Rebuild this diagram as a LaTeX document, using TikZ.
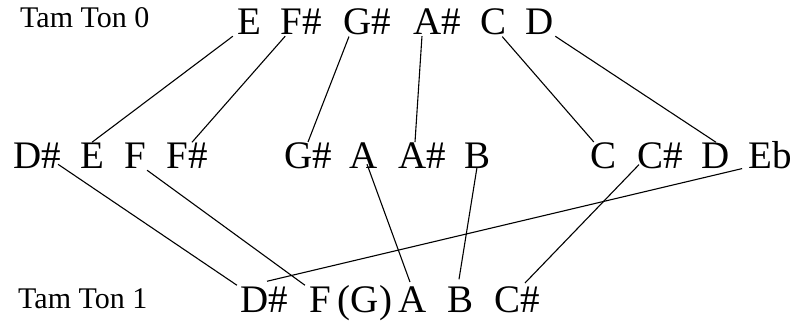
\documentclass[tikz,border=0pt]{standalone}
\usepackage{fontspec}
\setmainfont{Liberation Serif}
\begin{document}
\begin{tikzpicture}[x=1pt,y=-1pt,
  note/.style={font=\fontsize{39}{41}\selectfont, anchor=base, inner sep=1pt},
  lbl/.style={font=\fontsize{30}{32}\selectfont, anchor=base west, inner sep=0pt},
  link/.style={draw=black, line width=1.1pt}]
\useasboundingbox (0,0) rectangle (797,323);
% labels
\node[lbl] (l0) at (20,28) {Tam Ton 0};
\node[lbl] (l1) at (18,308) {Tam Ton 1};
% top row
\node[note] (tE)  at (249,35) {E};
\node[note] (tFs) at (301,35) {F\#};
\node[note] (tGs) at (367,35) {G\#};
\node[note] (tAs) at (437,35) {A\#};
\node[note] (tC)  at (493,35) {C};
\node[note] (tD)  at (540,35) {D};
% middle row
\node[note] (mDs) at (37,169) {D\#};
\node[note] (mE)  at (92,169) {E};
\node[note] (mF)  at (135,169) {F};
\node[note] (mFs) at (187,169) {F\#};
\node[note] (mGs) at (308,169) {G\#};
\node[note] (mA)  at (364,169) {A};
\node[note] (mAs) at (422,169) {A\#};
\node[note] (mB)  at (477,169) {B};
\node[note] (mC)  at (603,169) {C};
\node[note] (mCs) at (660,169) {C\#};
\node[note] (mD)  at (716,169) {D};
\node[note] (mEb) at (770,169) {Eb};
% bottom row
\node[note] (bDs) at (264,312) {D\#};
\node[note] (bF)  at (320,312) {F};
\node[note] (bG)  at (365,312) {(G)};
\node[note] (bA)  at (413,312) {A};
\node[note] (bB)  at (460,312) {B};
\node[note] (bCs) at (517,312) {C\#};
% top to middle
\draw[link] ([xshift=-3]tE.south west) -- (mE.north);
\draw[link] ([xshift=6]tFs.south west) -- ([xshift=5]mFs.north);
\draw[link] ([xshift=7]tGs.south west) -- (mGs.north);
\draw[link] ([xshift=10]tAs.south west) -- ([xshift=-7]mAs.north);
\draw[link] ([xshift=-5]tC.south east) -- ([xshift=5]mC.north west);
\draw[link] (tD.south east) -- (mD.north);
% middle to bottom
\draw[link] ([xshift=-4,yshift=6]mDs.south east) -- ([xshift=-2]bDs.north west);
\draw[link] (mF.south east) -- ([xshift=-3]bF.north west);
\draw[link] ([xshift=3,yshift=6]mA.south) -- ([xshift=-3,yshift=3]bA.north);
\draw[link] ([yshift=3]mB.south) -- ([xshift=-1,yshift=6]bB.north);
\draw[link] ([xshift=3,yshift=6]mCs.south west) -- ([xshift=8,yshift=2]bCs.north);
\draw[link] ([xshift=-5,yshift=2]mEb.south west) -- ([xshift=3,yshift=4]bDs.north);
\end{tikzpicture}
\end{document}
